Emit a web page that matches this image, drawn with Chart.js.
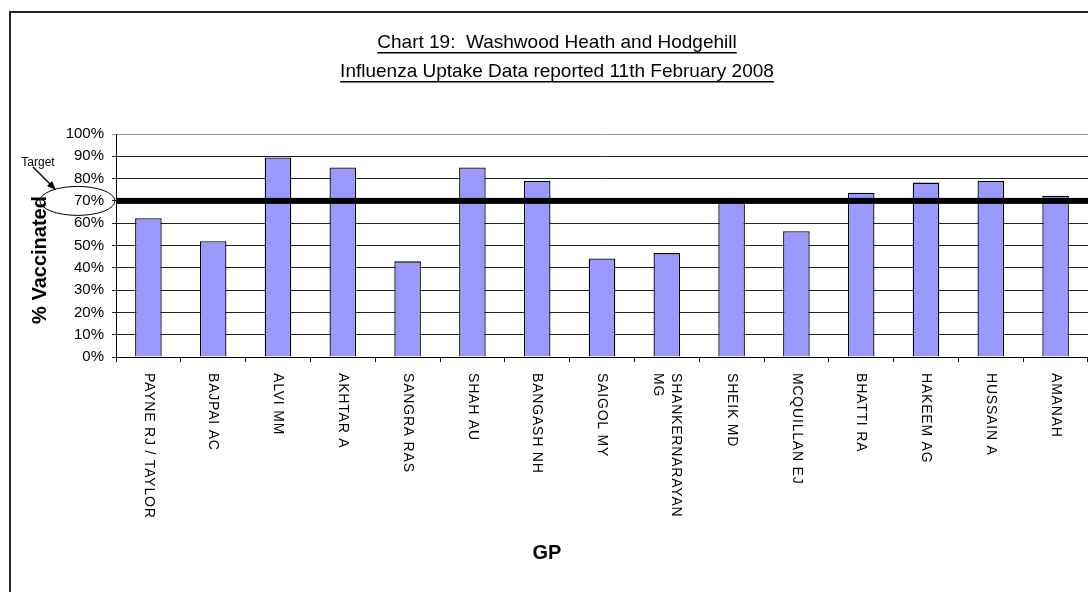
<!DOCTYPE html>
<html>
<head>
<meta charset="utf-8">
<script src="https://cdn.jsdelivr.net/npm/chart.js@4"></script>
<style>
    body { margin: 0; background: #fff; overflow: hidden; }
    #chart-box { width: 1088px; height: 592px; }
</style>
</head>
<body>
<div id="chart-box"><canvas id="uptake-chart" width="1088" height="592"></canvas></div>
<script>
const titleLines = ['Chart 19:  Washwood Heath and Hodgehill', 'Influenza Uptake Data reported 11th February 2008'];
const gps = ['PAYNE RJ / TAYLOR', 'BAJPAI AC', 'ALVI MM', 'AKHTAR A', 'SANGRA RAS', 'SHAH AU', 'BANGASH NH', 'SAIGOL MY',
    ['SHANKERNARAYAN', 'MG'], 'SHEIK MD', 'MCQUILLAN EJ', 'BHATTI RA', 'HAKEEM AG', 'HUSSAIN A', 'AMANAH'];
const uptake = [62.2, 51.9, 89.5, 85.0, 42.9, 85.0, 78.9, 44.2, 46.6, 69.6, 56.4, 73.7, 78.2, 78.9, 72.3];
const yMax = 100;
const yStep = 10;
const target = 70;

const ctx = document.getElementById('uptake-chart').getContext('2d');

// bits Excel drew by hand: frame, title, target line and the circled arrow
const extrasPlugin = {
    id: 'extras',
    afterDatasetsDraw(chart) {
        const c = chart.ctx;
        const area = chart.chartArea;
        const y = chart.scales.y;
        const yT = y.getPixelForValue(target);

        c.save();
        c.fillStyle = '#000';
        c.fillRect(area.left, yT - 3, area.right - area.left, 6);
        c.restore();
    },
    afterDraw(chart) {
        const c = chart.ctx;
        const x = chart.scales.x;
        const y = chart.scales.y;
        const yT = y.getPixelForValue(target);

        c.save();
        // frame
        c.strokeStyle = '#222';
        c.lineWidth = 2;
        c.beginPath();
        c.moveTo(10, 592);
        c.lineTo(10, 12);
        c.lineTo(1088, 12);
        c.stroke();

        // title, underlined
        c.fillStyle = '#000';
        c.font = '19px Arial, "Liberation Sans"';
        c.textAlign = 'center';
        c.textBaseline = 'alphabetic';
        const baselines = [48, 77];
        titleLines.forEach((t, i) => {
            c.fillText(t, 557, baselines[i]);
            const w = c.measureText(t).width;
            c.fillRect(557 - w / 2, baselines[i] + 4, w, 1.5);
        });

        // axis titles
        c.font = 'bold 20px Arial, "Liberation Sans"';
        c.textBaseline = 'middle';
        c.fillText('GP', 547, 553);
        c.save();
        c.translate(40, 260);
        c.rotate(-Math.PI / 2);
        c.fillText('% Vaccinated', 0, 0);
        c.restore();

        // x labels, turned clockwise
        c.font = '14px Arial, "Liberation Sans"';
        c.letterSpacing = '0.8px';
        c.textAlign = 'left';
        gps.forEach((g, i) => {
            const lines = Array.isArray(g) ? g : [g];
            const px = x.getPixelForValue(i);
            c.save();
            c.translate(px, y.bottom + 16);
            c.rotate(Math.PI / 2);
            lines.forEach((l, j) => {
                c.fillText(l, 0, (j - (lines.length - 1) / 2) * 18);
            });
            c.restore();
        });
        c.letterSpacing = '0px';

        // target marker
        c.font = '12px Arial, "Liberation Sans"';
        c.textAlign = 'center';
        c.fillText('Target', 38, 163);
        c.strokeStyle = '#000';
        c.lineWidth = 1;
        c.beginPath();
        c.ellipse(77.5, yT, 37.5, 14.5, 0, 0, Math.PI * 2);
        c.stroke();
        c.lineWidth = 1.5;
        c.beginPath();
        c.moveTo(33, 167);
        c.lineTo(54, 188);
        c.stroke();
        c.beginPath();
        c.moveTo(56, 190);
        c.lineTo(47, 186);
        c.lineTo(52, 181);
        c.closePath();
        c.fill();
        c.restore();
    }
};

const chart = new Chart(ctx, {
    type: 'bar',
    data: {
        labels: gps,
        datasets: [{
            label: '% Vaccinated',
            data: uptake,
            backgroundColor: '#9999FF',
            borderColor: '#000',
            borderWidth: 1.3,
            barPercentage: 0.41,
            categoryPercentage: 1
        }]
    },
    options: {
        responsive: false,
        animation: false,
        layout: { padding: { top: 134, right: 0, left: 0, bottom: 0 } },
        plugins: {
            legend: { display: false },
            tooltip: { enabled: false }
        },
        scales: {
            x: {
                afterFit: (scale) => { scale.height = 235; },
                ticks: { display: false },
                grid: { display: true, drawOnChartArea: false, offset: true, tickLength: 5, color: '#000' },
                border: { color: '#000', width: 1 }
            },
            y: {
                min: 0,
                max: yMax,
                afterFit: (scale) => { scale.width = 116; },
                ticks: {
                    stepSize: yStep,
                    padding: 8,
                    color: '#000',
                    font: { family: 'Arial, "Liberation Sans"', size: 15 },
                    callback: (v) => v + '%'
                },
                grid: {
                    color: (c) => c.tick && c.tick.value === yMax ? '#999' : '#222',
                    tickLength: 4
                },
                border: { color: '#000', width: 1 }
            }
        }
    },
    plugins: [extrasPlugin]
});
</script>
</body>
</html>
